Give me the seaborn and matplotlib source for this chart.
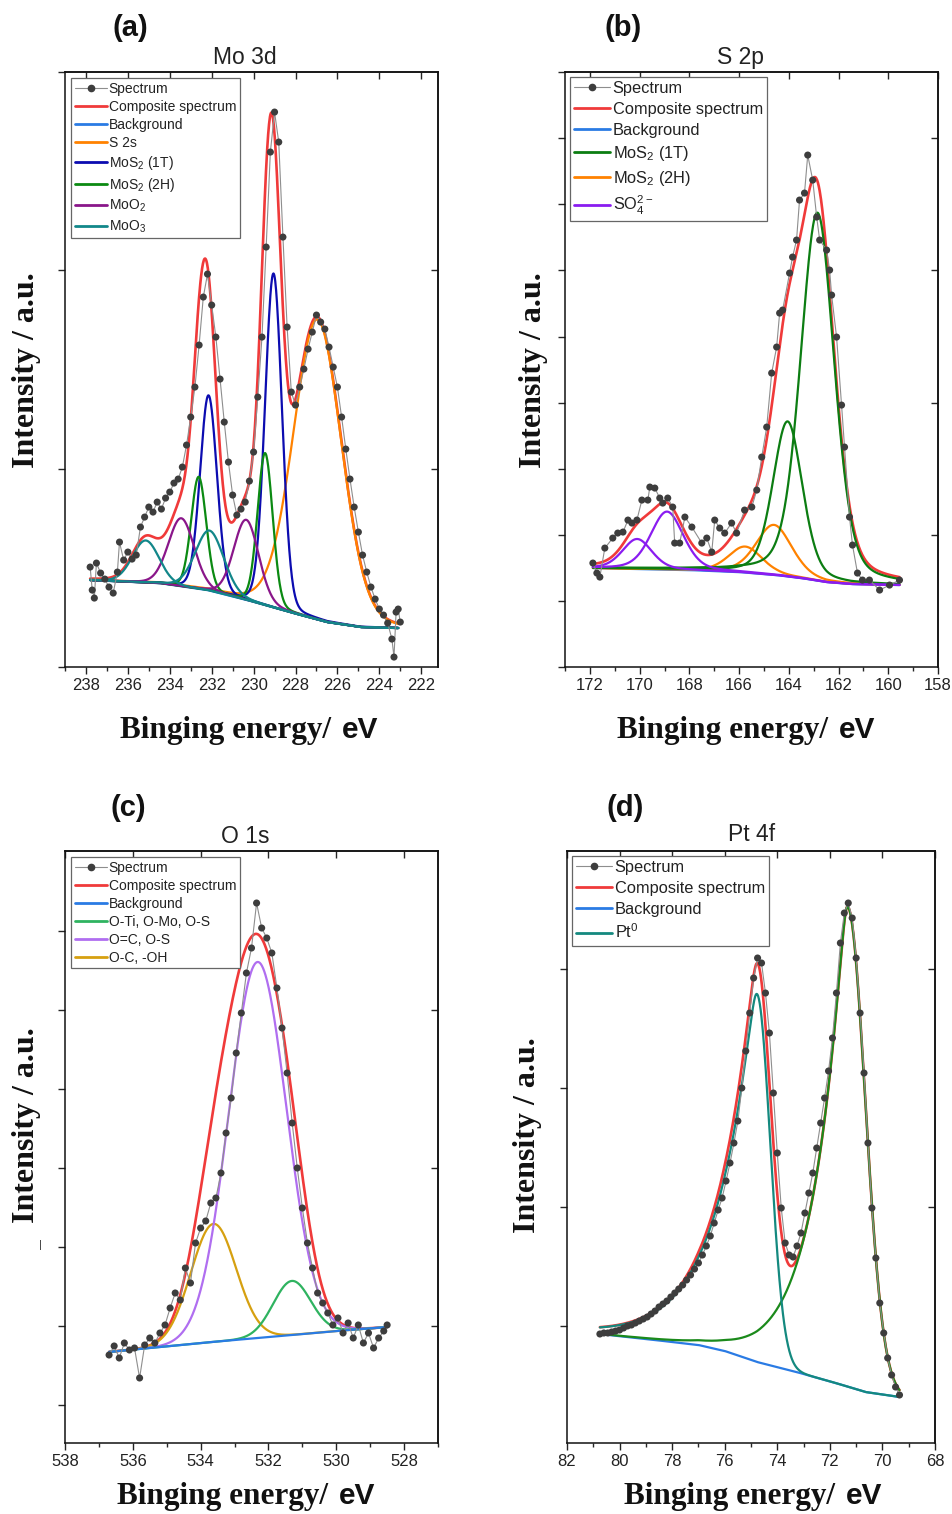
import numpy as np
import pandas as pd
import matplotlib
matplotlib.use("Agg")
import matplotlib.pyplot as plt
import seaborn as sns
from matplotlib.lines import Line2D
from matplotlib.ticker import MultipleLocator
from matplotlib.offsetbox import TextArea, HPacker, AnchoredOffsetbox

# ---------------- (a) Mo 3d ----------------
mo_energy = [237.8, 237.7, 237.6, 237.5, 237.3, 237.1, 236.9, 236.7, 236.5, 236.4,
             236.2, 236.0, 235.8, 235.6, 235.4, 235.2, 235.0, 234.8, 234.6, 234.4,
             234.2, 234.0, 233.8, 233.6, 233.4, 233.2, 233.0, 232.8, 232.6, 232.4,
             232.2, 232.0, 231.8, 231.6, 231.4, 231.2, 231.0, 230.8, 230.6, 230.4,
             230.2, 230.0, 229.8, 229.6, 229.4, 229.2, 229.0, 228.8, 228.6, 228.4,
             228.2, 228.0, 227.8, 227.6, 227.4, 227.2, 227.0, 226.8, 226.6, 226.4,
             226.2, 226.0, 225.8, 225.6, 225.4, 225.2, 225.0, 224.8, 224.6, 224.4,
             224.2, 224.0, 223.8, 223.6, 223.4, 223.3, 223.2, 223.1, 223.0]
mo_counts = [100, 77, 69, 104, 94, 88, 80, 74, 95, 125,
             107, 115, 108, 112, 140, 150, 160, 155, 165, 158,
             169, 175, 184, 188, 200, 222, 250, 280, 322, 370,
             393, 362, 330, 288, 245, 205, 172, 152, 158, 165,
             186, 215, 270, 330, 420, 515, 555, 525, 430, 340,
             275, 262, 280, 298, 318, 335, 352, 345, 338, 320,
             300, 280, 250, 218, 188, 160, 135, 112, 95, 80,
             68, 58, 52, 44, 28, 10, 55, 58, 45]
mo_bg_energy = [237.84, 234.5, 232.2, 230.3, 228.1, 226.5, 224.9, 223.1]
mo_bg_counts = [87, 84, 77, 67, 54, 45, 40, 39]
mo_labels = ["S 2s", "MoS$_2$ (1T)", "MoS$_2$ (1T)", "MoS$_2$ (2H)", "MoS$_2$ (2H)",
             "MoO$_2$", "MoO$_2$", "MoO$_3$", "MoO$_3$"]
mo_centers = [226.95, 232.15, 229.05, 232.62, 229.45, 233.45, 230.35, 235.15, 232.1]
mo_heights = [300, 195, 334, 112, 152, 68, 80, 42, 60]
mo_fwhm = [2.7, 0.95, 0.95, 0.85, 0.85, 1.45, 1.4, 1.5, 1.6]

# ---------------- (b) S 2p ----------------
s_energy = [171.88, 171.72, 171.6, 171.4, 171.08, 170.88, 170.67, 170.47, 170.31, 170.11,
            169.91, 169.67, 169.59, 169.39, 169.19, 169.07, 168.87, 168.67, 168.59, 168.39,
            168.18, 167.9, 167.5, 167.3, 167.1, 166.98, 166.78, 166.58, 166.3, 166.1,
            165.78, 165.49, 165.29, 165.09, 164.89, 164.69, 164.49, 164.37, 164.25, 163.97,
            163.85, 163.69, 163.57, 163.37, 163.24, 163.04, 162.88, 162.76, 162.48, 162.36,
            162.28, 162.08, 161.88, 161.76, 161.56, 161.44, 161.24, 161.04, 160.76, 160.35,
            159.95, 159.55]
s_counts = [104, 94, 90, 119, 129, 134, 135, 147, 144, 147,
            167, 167, 180, 179, 169, 164, 169, 160, 124, 124,
            150, 140, 124, 129, 115, 147, 139, 134, 144, 134,
            157, 160, 177, 210, 240, 294, 320, 354, 357, 394,
            410, 427, 467, 474, 512, 487, 450, 427, 417, 397,
            372, 330, 262, 220, 150, 122, 94, 87, 87, 77,
            82, 87]
s_bg_energy = [171.9, 168.0, 166.0, 164.5, 163.5, 162.5, 161.5, 159.5]
s_bg_counts = [99, 97, 95, 92, 89, 85, 83, 82]
s_labels = ["MoS$_2$ (2H)", "MoS$_2$ (2H)", "MoS$_2$ (1T)", "MoS$_2$ (1T)",
            "SO$_4^{2-}$", "SO$_4^{2-}$"]
s_centers = [165.75, 164.6, 164.05, 162.85, 170.1, 168.9]
s_heights = [26, 50, 155, 368, 30, 58]
s_fwhm = [1.6, 1.7, 1.4, 1.6, 1.4, 1.55]

# ---------------- (c) O 1s ----------------
o_energy = [536.7, 536.55, 536.4, 536.25, 536.1, 535.95, 535.8, 535.65, 535.5, 535.35,
            535.2, 535.05, 534.9, 534.75, 534.6, 534.45, 534.3, 534.15, 534.0, 533.85,
            533.7, 533.55, 533.4, 533.25, 533.1, 532.95, 532.8, 532.65, 532.5, 532.35,
            532.2, 532.05, 531.9, 531.75, 531.6, 531.45, 531.3, 531.15, 531.0, 530.85,
            530.7, 530.55, 530.4, 530.25, 530.1, 529.95, 529.8, 529.65, 529.5, 529.35,
            529.2, 529.05, 528.9, 528.75, 528.6, 528.5]
o_counts = [88, 97, 85, 100, 93, 95, 65, 98, 105, 100,
            110, 118, 135, 150, 143, 175, 160, 200, 215, 222,
            240, 245, 270, 310, 345, 390, 430, 470, 495, 540,
            515, 505, 490, 455, 415, 370, 320, 275, 235, 200,
            175, 150, 140, 130, 118, 125, 110, 120, 105, 118,
            100, 110, 95, 105, 112, 118]
o_bg_energy = [536.73, 534.0, 532.0, 530.0, 528.47]
o_bg_counts = [91, 100, 106, 112, 116]
o_labels = ["O-C, -OH", "O=C, O-S", "O-Ti, O-Mo, O-S"]
o_centers = [533.62, 532.32, 531.31]
o_heights = [118, 376, 54]
o_fwhm = [1.57, 2.0, 1.3]

# ---------------- (d) Pt 4f ----------------
pt_energy = [80.75, 80.6, 80.45, 80.3, 80.15, 80.0, 79.85, 79.7, 79.55, 79.4,
             79.25, 79.1, 78.95, 78.8, 78.65, 78.5, 78.35, 78.2, 78.05, 77.9,
             77.75, 77.6, 77.45, 77.3, 77.15, 77.0, 76.85, 76.7, 76.55, 76.4,
             76.25, 76.1, 75.95, 75.8, 75.65, 75.5, 75.35, 75.2, 75.05, 74.9,
             74.75, 74.6, 74.45, 74.3, 74.15, 74.0, 73.85, 73.7, 73.55, 73.4,
             73.25, 73.1, 72.95, 72.8, 72.65, 72.5, 72.35, 72.2, 72.05, 71.9,
             71.75, 71.6, 71.45, 71.3, 71.15, 71.0, 70.85, 70.7, 70.55, 70.4,
             70.25, 70.1, 69.95, 69.8, 69.65, 69.5, 69.35]
pt_counts = [109, 110, 110, 111, 112, 113, 115, 117, 118, 120,
             122, 124, 126, 129, 132, 136, 139, 142, 146, 150,
             154, 158, 163, 168, 174, 180, 188, 197, 207, 220,
             233, 245, 262, 280, 300, 322, 355, 392, 430, 465,
             485, 480, 450, 410, 350, 290, 235, 200, 188, 186,
             197, 210, 230, 250, 270, 295, 320, 345, 372, 405,
             450, 500, 530, 540, 525, 485, 430, 370, 300, 235,
             185, 140, 110, 85, 68, 56, 48]
pt_bg_energy = [80.76, 79.0, 77.0, 76.0, 74.77, 73.27, 71.78, 70.65, 69.34]
pt_bg_counts = [109, 104, 98, 92, 81, 71, 60, 51, 46]
pt_centers = [74.78, 71.33]
pt_heights = [368, 480]
pt_tail_high = [1.45, 1.2]   # decay length towards higher binding energy
pt_hwhm_low = [0.6, 0.8]     # half width towards lower binding energy

sns.set_theme(style="ticks")
plt.rcParams["font.family"] = ["Liberation Sans", "DejaVu Sans"]
plt.rcParams["mathtext.fontset"] = "custom"
plt.rcParams["mathtext.rm"] = "Liberation Sans"
plt.rcParams["mathtext.it"] = "Liberation Sans:italic"
plt.rcParams["mathtext.bf"] = "Liberation Sans:bold"

RED = "#f03a3a"
BLUE = "#2a7be4"
SPEC_LINE = "#8e8e8e"
SPEC_DOT = "#3d3d3d"


def gl(e, c, h, w, eta=0.25):
    d = (e - c) / w
    return h * ((1 - eta) * np.exp(-4 * np.log(2) * d ** 2) + eta / (1 + 4 * d ** 2))


def pt_shape(e, c, h, lam, w_lo, a=0.15):
    d = e - c
    hi = np.exp(-(np.sqrt(d ** 2 + a ** 2) - a) / lam)
    lo = np.exp(-np.log(2) * (d / w_lo) ** 2)
    return h * np.where(d >= 0, hi, lo)


def line(ax, x, y, color, lw=1.6, z=2):
    sns.lineplot(x=x, y=y, color=color, lw=lw, ax=ax, sort=False,
                 estimator=None, legend=False, zorder=z)


def spectrum(ax, e, c):
    line(ax, e, c, SPEC_LINE, lw=0.8, z=5)
    sns.scatterplot(x=e, y=c, color=SPEC_DOT, s=26, edgecolor="none",
                    ax=ax, legend=False, zorder=6)


def frame(ax, xlim, ylim, yticks_left, yticks_right):
    ax.set_xlim(*xlim)
    ax.set_ylim(*ylim)
    ax.xaxis.set_major_locator(MultipleLocator(2))
    ax.xaxis.set_minor_locator(MultipleLocator(1))
    ax.set_yticks(yticks_left)
    ax.set_yticklabels([])
    ax.tick_params(axis="x", which="major", direction="out", length=5, width=1,
                   labelsize=12, colors="#222222", pad=3)
    ax.tick_params(axis="x", which="minor", direction="out", length=3, width=1)
    ax.tick_params(axis="y", direction="out", length=5, width=1)
    for sp in ax.spines.values():
        sp.set_color("#111111")
        sp.set_linewidth(1.1)
    ax.set_xlabel("")
    ax.set_ylabel("")
    top = ax.secondary_xaxis("top")
    top.xaxis.set_major_locator(MultipleLocator(2))
    top.tick_params(direction="in", length=5, width=1, labeltop=False)
    right = ax.secondary_yaxis("right")
    right.set_yticks(yticks_right)
    right.tick_params(direction="in", length=5, width=1, labelright=False)
    for sec in (top, right):
        for sp in sec.spines.values():
            sp.set_color("#111111")
            sp.set_linewidth(1.1)


def legend(ax, entries, size, spacing, hlen, pad):
    handles = [Line2D([], [], color=SPEC_LINE, lw=0.8, marker="o", markersize=4.5,
                      markerfacecolor=SPEC_DOT, markeredgecolor=SPEC_DOT)]
    labels = ["Spectrum"]
    for lab, col in entries:
        handles.append(Line2D([], [], color=col, lw=2))
        labels.append(lab)
    leg = ax.legend(handles, labels, loc="upper left", bbox_to_anchor=(0.0, 1.0),
                    fontsize=size, labelspacing=spacing, handlelength=hlen,
                    handletextpad=0.15, borderpad=0.25, borderaxespad=pad,
                    frameon=True, fancybox=False, framealpha=1)
    leg.get_frame().set_edgecolor("#666666")
    leg.get_frame().set_linewidth(0.9)
    for t in leg.get_texts():
        t.set_color("#222222")


fig = plt.figure(figsize=(9.53, 15.14), dpi=100)
ax_a = fig.add_axes([0.0682, 0.5594, 0.3914, 0.3930])
ax_b = fig.add_axes([0.5929, 0.5594, 0.3914, 0.3930])
ax_c = fig.add_axes([0.0682, 0.0469, 0.3914, 0.3910])
ax_d = fig.add_axes([0.5950, 0.0469, 0.3861, 0.3910])

# ---- panel (a)
grid = np.linspace(mo_energy[0], 223.1, 700)
bg = np.interp(grid, mo_bg_energy[::-1], mo_bg_counts[::-1])
peaks = [gl(grid, c, h, w, 0.1) for c, h, w in zip(mo_centers, mo_heights, mo_fwhm)]
mo_colors = {"S 2s": "#ff8200", "MoS$_2$ (1T)": "#0c0cb0", "MoS$_2$ (2H)": "#0b8a12",
             "MoO$_2$": "#8a168a", "MoO$_3$": "#12878a"}
line(ax_a, grid, bg + sum(peaks), RED, lw=1.9)
line(ax_a, grid, bg, BLUE)
for lab, p in zip(mo_labels, peaks):
    line(ax_a, grid, bg + p, mo_colors[lab])
spectrum(ax_a, mo_energy, mo_counts)
frame(ax_a, (239, 221.2), (0, 595), [0, 198.3, 396.7, 595], [198.3, 396.7])
legend(ax_a, [("Composite spectrum", RED), ("Background", BLUE)] + list(mo_colors.items()),
       10, 0.29, 2.3, 0.45)

# ---- panel (b)
grid = np.linspace(s_energy[0], s_energy[-1], 700)
bg = np.interp(grid, s_bg_energy[::-1], s_bg_counts[::-1])
peaks = [gl(grid, c, h, w, 0.3) for c, h, w in zip(s_centers, s_heights, s_fwhm)]
s_colors = {"MoS$_2$ (1T)": "#0c7d12", "MoS$_2$ (2H)": "#ff8200",
            "SO$_4^{2-}$": "#8a1cf0"}
line(ax_b, grid, bg + sum(peaks), RED, lw=1.9)
line(ax_b, grid, bg, BLUE)
for lab, p in zip(s_labels, peaks):
    line(ax_b, grid, bg + p, s_colors[lab])
spectrum(ax_b, s_energy, s_counts)
frame(ax_b, (173, 158), (0, 595), np.arange(0, 596, 66.11), [132.2, 264.4, 396.7, 528.9])
legend(ax_b, [("Composite spectrum", RED), ("Background", BLUE)] + list(s_colors.items()),
       11.8, 0.36, 2.2, 0.3)

# ---- panel (c)
grid = np.linspace(o_energy[0], o_energy[-1], 700)
bg = np.interp(grid, o_bg_energy[::-1], o_bg_counts[::-1])
peaks = [gl(grid, c, h, w, 0.0) for c, h, w in zip(o_centers, o_heights, o_fwhm)]
o_colors = {"O-Ti, O-Mo, O-S": "#2fb360", "O=C, O-S": "#b06ef0", "O-C, -OH": "#d6a010"}
line(ax_c, grid, bg + sum(peaks), RED, lw=1.9)
for lab, p in zip(o_labels, peaks):
    line(ax_c, grid, bg + p, o_colors[lab])
line(ax_c, grid, bg, BLUE)
spectrum(ax_c, o_energy, o_counts)
frame(ax_c, (538, 527), (0, 592), [38, 117, 196, 275, 354, 433, 512],
      [117, 275, 433])
legend(ax_c, [("Composite spectrum", RED), ("Background", BLUE)] + list(o_colors.items()),
       10, 0.29, 2.3, 0.45)

# ---- panel (d)
grid = np.linspace(pt_energy[0], pt_energy[-1], 700)
bg = np.interp(grid, pt_bg_energy[::-1], pt_bg_counts[::-1])
peaks = [pt_shape(grid, c, h, a, b) for c, h, a, b in
         zip(pt_centers, pt_heights, pt_tail_high, pt_hwhm_low)]
line(ax_d, grid, bg + sum(peaks), RED, lw=1.9)
line(ax_d, grid, bg, BLUE)
line(ax_d, grid, bg + peaks[1], "#1b8a1b")
line(ax_d, grid, bg + peaks[0], "#14897f")
spectrum(ax_d, pt_energy, pt_counts)
frame(ax_d, (82, 68), (0, 592), [117, 236, 355, 474], [236, 474])
legend(ax_d, [("Composite spectrum", RED), ("Background", BLUE),
              ("Pt$^0$", "#14897f")], 11.8, 0.36, 2.2, 0.3)

# ---- texts
panel_tags = ["(a)", "(b)", "(c)", "(d)"]
panel_titles = ["Mo 3d", "S 2p", "O 1s", "Pt 4f"]
tag_xy = [(0.1364, 0.9815), (0.6537, 0.9815), (0.1343, 0.4663), (0.6558, 0.4663)]
title_xy = [(0.2571, 0.9617), (0.7775, 0.9617), (0.2571, 0.4478), (0.7891, 0.4491)]
xlabel_xy = [(0.2612, 0.5172), (0.7827, 0.5172), (0.2581, 0.0118), (0.7901, 0.0118)]
ylabel_xy = [(0.0283, 0.7556), (0.5593, 0.7556), (0.0283, 0.2569), (0.5540, 0.2503)]

for tag, (x, y) in zip(panel_tags, tag_xy):
    fig.text(x, y, tag, ha="center", va="center", fontsize=21, fontweight="bold",
             color="#111111")
for t, (x, y) in zip(panel_titles, title_xy):
    fig.text(x, y, t, ha="center", va="center", fontsize=16.5, color="#222222")
for x, y in ylabel_xy:
    fig.text(x, y, "Intensity / a.u.", ha="center", va="center", rotation=90,
             fontsize=23, fontweight="bold", family="Liberation Serif", color="#111111")
for x, y in xlabel_xy:
    box = HPacker(children=[
        TextArea("Binging energy/", textprops=dict(family="Liberation Serif",
                                                   weight="bold", size=22.5, color="#111111")),
        TextArea("eV", textprops=dict(family="Liberation Sans", weight="bold",
                                      size=21.5, color="#111111"))],
        align="baseline", pad=0, sep=8)
    anchored = AnchoredOffsetbox(loc="center", child=box, frameon=False,
                                 bbox_to_anchor=(x, y), bbox_transform=fig.transFigure,
                                 borderpad=0, pad=0)
    fig.add_artist(anchored)
fig.text(0.042, 0.1775, "|", fontsize=8, color="#333333", ha="center", va="center")

fig.savefig("out.png", dpi=100)
